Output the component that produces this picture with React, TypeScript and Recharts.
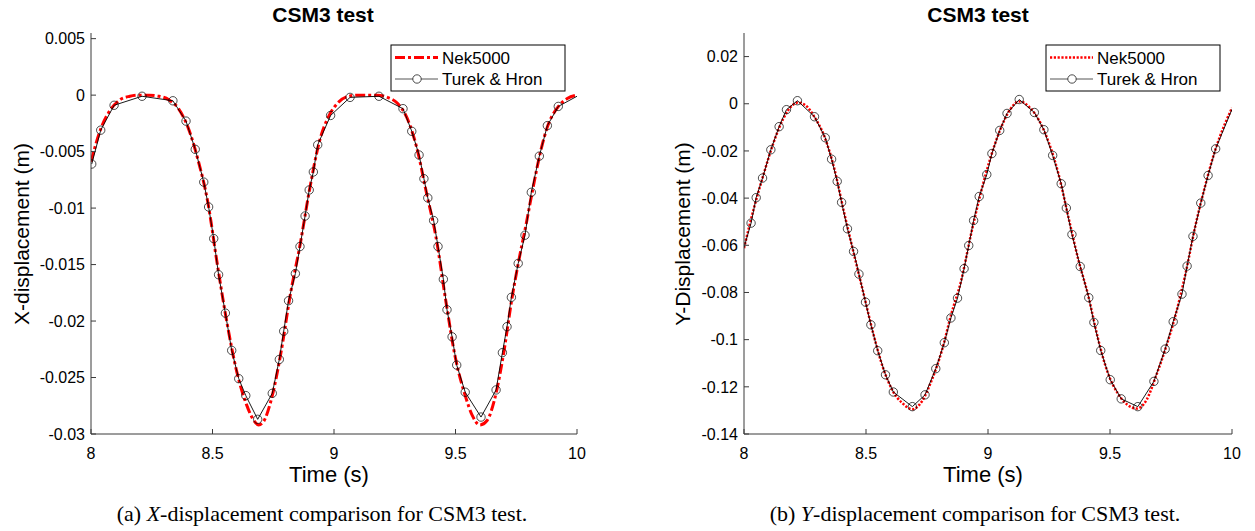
import { Line, LineChart, XAxis, YAxis } from "recharts";

// (a) X-displacement, Turek & Hron reference (markers)
const xTurekT = [8.003, 8.04, 8.095, 8.21, 8.337, 8.391, 8.429, 8.464, 8.484, 8.505, 8.525, 8.553, 8.579, 8.608, 8.637, 8.686, 8.746, 8.775, 8.793, 8.813, 8.841, 8.86, 8.881, 8.898, 8.915, 8.933, 8.986, 9.066, 9.185, 9.284, 9.32, 9.35, 9.37, 9.386, 9.41, 9.428, 9.45, 9.465, 9.486, 9.505, 9.54, 9.605, 9.667, 9.693, 9.712, 9.73, 9.758, 9.786, 9.812, 9.845, 9.878, 9.923];
const xTurekY = [-0.0061, -0.0031, -0.0009, -0.0001, -0.0005, -0.0023, -0.0048, -0.0077, -0.0099, -0.0127, -0.0159, -0.0193, -0.0226, -0.0251, -0.0266, -0.0287, -0.0264, -0.0234, -0.0209, -0.0182, -0.0158, -0.0134, -0.0107, -0.0084, -0.0068, -0.0044, -0.0018, -0.0002, -0.0001, -0.0012, -0.0032, -0.0053, -0.0074, -0.0091, -0.0111, -0.0134, -0.0163, -0.019, -0.0214, -0.0239, -0.0263, -0.0285, -0.0261, -0.0228, -0.0205, -0.0179, -0.0149, -0.0124, -0.0086, -0.0054, -0.0027, -0.001];
const xTurekEnd = { t: 10.0, y: -0.0001 };

// (a) X-displacement, Nek5000
const xNekT = [8.0, 8.04, 8.08, 8.12, 8.16, 8.2, 8.24, 8.28, 8.32, 8.36, 8.4, 8.44, 8.48, 8.52, 8.56, 8.6, 8.64, 8.67, 8.69, 8.71, 8.74, 8.78, 8.82, 8.86, 8.9, 8.94, 8.98, 9.02, 9.06, 9.1, 9.14, 9.18, 9.22, 9.26, 9.3, 9.34, 9.38, 9.42, 9.46, 9.5, 9.54, 9.57, 9.6, 9.63, 9.66, 9.7, 9.73, 9.76, 9.79, 9.82, 9.85, 9.88, 9.92, 9.96, 10.0];
const xNekY = [-0.0059, -0.003, -0.0013, -0.0004, -0.0001, 0, 0, -0.0001, -0.0004, -0.0012, -0.0029, -0.0057, -0.0094, -0.015, -0.0202, -0.0245, -0.0274, -0.0288, -0.0292, -0.0289, -0.0271, -0.023, -0.0177, -0.0133, -0.0083, -0.0041, -0.0018, -0.0006, -0.0001, 0, 0, 0, -0.0002, -0.0007, -0.002, -0.0046, -0.0086, -0.0126, -0.0182, -0.0233, -0.0266, -0.0284, -0.0292, -0.0288, -0.027, -0.0226, -0.0183, -0.0147, -0.0115, -0.0081, -0.005, -0.0027, -0.0011, -0.0003, 0];

// (b) Y-displacement, Turek & Hron reference (markers)
const yTurekStart = { t: 8.0, y: -0.0609 };
const yTurekT = [8.029, 8.05, 8.076, 8.11, 8.144, 8.174, 8.219, 8.289, 8.333, 8.359, 8.382, 8.4, 8.424, 8.449, 8.471, 8.498, 8.52, 8.548, 8.58, 8.612, 8.69, 8.742, 8.786, 8.821, 8.848, 8.875, 8.902, 8.921, 8.941, 8.964, 8.995, 9.016, 9.048, 9.078, 9.128, 9.19, 9.229, 9.265, 9.3, 9.321, 9.344, 9.378, 9.413, 9.434, 9.462, 9.501, 9.546, 9.614, 9.68, 9.726, 9.759, 9.795, 9.816, 9.84, 9.872, 9.902, 9.933];
const yTurekY = [-0.0506, -0.0398, -0.0315, -0.0195, -0.0097, -0.0025, 0.0013, -0.0055, -0.0144, -0.0235, -0.0329, -0.0418, -0.053, -0.0626, -0.0722, -0.0841, -0.0937, -0.1047, -0.1149, -0.1222, -0.1284, -0.1234, -0.1123, -0.1013, -0.0908, -0.0824, -0.0699, -0.0601, -0.0495, -0.0393, -0.03, -0.0211, -0.0113, -0.0041, 0.0018, -0.0037, -0.011, -0.0219, -0.0339, -0.0442, -0.0554, -0.069, -0.0822, -0.0927, -0.1046, -0.117, -0.1251, -0.1284, -0.1177, -0.104, -0.0924, -0.0807, -0.0688, -0.0562, -0.0421, -0.0304, -0.0191];
const yTurekEnd = { t: 10.0, y: -0.0023 };

// (b) Y-displacement, Nek5000
const yNekT = [8.0, 8.04, 8.08, 8.12, 8.16, 8.2, 8.22, 8.25, 8.29, 8.33, 8.37, 8.41, 8.45, 8.49, 8.53, 8.57, 8.61, 8.65, 8.69, 8.73, 8.77, 8.81, 8.85, 8.89, 8.93, 8.97, 9.01, 9.05, 9.09, 9.13, 9.17, 9.21, 9.25, 9.29, 9.33, 9.37, 9.41, 9.45, 9.49, 9.53, 9.57, 9.61, 9.65, 9.69, 9.73, 9.77, 9.81, 9.85, 9.89, 9.93, 9.97, 10.0];
const yNekY = [-0.0612, -0.0445, -0.03, -0.0168, -0.0065, -0.0005, 0.0005, -0.0005, -0.0058, -0.014, -0.0275, -0.046, -0.0635, -0.0805, -0.0975, -0.112, -0.1218, -0.127, -0.1295, -0.126, -0.117, -0.105, -0.089, -0.075, -0.0555, -0.038, -0.023, -0.011, -0.0025, 0.001, -0.0015, -0.0072, -0.0167, -0.0302, -0.0483, -0.066, -0.081, -0.0992, -0.1138, -0.1225, -0.1275, -0.1292, -0.1255, -0.115, -0.103, -0.089, -0.0718, -0.0517, -0.0348, -0.02, -0.0088, -0.0018];

const timeTicks = [8, 8.5, 9, 9.5, 10];
const xDispTicks = [0.005, 0, -0.005, -0.01, -0.015, -0.02, -0.025, -0.03];
const yDispTicks = [0.02, 0, -0.02, -0.04, -0.06, -0.08, -0.1, -0.12, -0.14];

const zip = (ts: number[], ys: number[]) => ts.map((t, i) => ({ t, y: ys[i] }));

const SANS = "'Liberation Sans', Arial, Helvetica, sans-serif";
const SERIF = "'Liberation Serif', 'Times New Roman', serif";
const AXIS = "#3a3a3a";
const tickFont = { fontSize: 16, fill: "#000", fontFamily: SANS };
const noLabel = () => <g />;

type PanelProps = {
  left: number;
  width: number;
  yWidth: number;
  yDomain: [number, number];
  yTicks: number[];
  nek: { t: number; y: number }[];
  turekLine: { t: number; y: number }[];
  turekMarks: { t: number; y: number }[];
  nekDash: string;
  nekWidth: number;
};

function Panel(p: PanelProps) {
  const rightMargin = p.width - (p.left === 0 ? 577 : 1232 - p.left);
  return (
    <div style={{ position: "absolute", left: p.left, top: 0 }}>
      <LineChart width={p.width} height={531} margin={{ top: 33, right: rightMargin, left: 0, bottom: 67 }}>
        {/* ticks point inward, like the MATLAB box axes */}
        <XAxis xAxisId="b" type="number" dataKey="t" domain={[8, 10]} ticks={timeTicks} allowDataOverflow
          height={30} tickSize={-5} tickMargin={19} stroke={AXIS} tick={tickFont} />
        <XAxis xAxisId="top" orientation="top" type="number" dataKey="t" domain={[8, 10]} ticks={timeTicks} allowDataOverflow
          height={0} tickSize={-5} tick={noLabel} stroke={AXIS} />
        <YAxis yAxisId="l" type="number" dataKey="y" domain={p.yDomain} ticks={p.yTicks} allowDataOverflow
          width={p.yWidth} tickSize={-5} tickMargin={11} stroke={AXIS} tick={tickFont} />
        <YAxis yAxisId="r" orientation="right" type="number" dataKey="y" domain={p.yDomain} ticks={p.yTicks} allowDataOverflow
          width={0} tickSize={-5} tick={noLabel} stroke={AXIS} />
        <Line xAxisId="b" yAxisId="l" data={p.nek} dataKey="y" type="monotone" stroke="#ff0000" strokeWidth={p.nekWidth}
          strokeDasharray={p.nekDash} dot={false} isAnimationActive={false} />
        <Line xAxisId="b" yAxisId="l" data={p.turekLine} dataKey="y" type="linear" stroke="#000" strokeWidth={0.9}
          dot={false} isAnimationActive={false} />
        <Line xAxisId="b" yAxisId="l" data={p.turekMarks} dataKey="y" stroke="none"
          dot={{ r: 4.2, fill: "none", stroke: "#000", strokeWidth: 0.7 }} isAnimationActive={false} />
      </LineChart>
    </div>
  );
}

function LegendBox({ x, dash, w }: { x: number; dash: string; w: number }) {
  return (
    <g>
      <rect x={x} y={45} width={174} height={46} fill="#fff" stroke="#000" strokeWidth={1} />
      <line x1={x + 4} x2={x + 47} y1={57.5} y2={57.5} stroke="#ff0000" strokeWidth={w} strokeDasharray={dash} />
      <text x={x + 51} y={63.5} fontSize={17} fontFamily={SANS}>Nek5000</text>
      <line x1={x + 4} x2={x + 47} y1={79} y2={79} stroke="#555" strokeWidth={1} />
      <circle cx={x + 26} cy={79} r={4.2} fill="#fff" stroke="#000" strokeWidth={0.7} />
      <text x={x + 51} y={85} fontSize={17} fontFamily={SANS}>Turek &amp; Hron</text>
    </g>
  );
}

export default function App() {
  const dashDot = "10 3 3 3";
  const dotted = "2.2 1.6";
  return (
    <div style={{ position: "absolute", left: 0, top: 0, width: 1255, height: 531, background: "#fff" }}>
      <Panel left={0} width={620} yWidth={91} yDomain={[-0.03, 0.0055]} yTicks={xDispTicks}
        nek={zip(xNekT, xNekY)} turekLine={[...zip(xTurekT, xTurekY), xTurekEnd]} turekMarks={zip(xTurekT, xTurekY)}
        nekDash={dashDot} nekWidth={3} />
      <Panel left={640} width={615} yWidth={104} yDomain={[-0.14, 0.03]} yTicks={yDispTicks}
        nek={zip(yNekT, yNekY)} turekLine={[yTurekStart, ...zip(yTurekT, yTurekY), yTurekEnd]} turekMarks={zip(yTurekT, yTurekY)}
        nekDash={dotted} nekWidth={2.5} />
      <svg width={1255} height={531} style={{ position: "absolute", left: 0, top: 0, pointerEvents: "none" }}>
        <text x={323} y={22} textAnchor="middle" fontSize={21} fontWeight="bold" fontFamily={SANS}>CSM3 test</text>
        <text x={978} y={22} textAnchor="middle" fontSize={21} fontWeight="bold" fontFamily={SANS}>CSM3 test</text>
        <LegendBox x={391} dash={dashDot} w={3} />
        <LegendBox x={1046} dash={dotted} w={2.5} />
        <text x={329} y={482} textAnchor="middle" fontSize={22} fontFamily={SANS}>Time (s)</text>
        <text x={983} y={482} textAnchor="middle" fontSize={22} fontFamily={SANS}>Time (s)</text>
        <text transform="translate(29,234) rotate(-90)" textAnchor="middle" fontSize={21} fontFamily={SANS}>X-displacement (m)</text>
        <text transform="translate(690,234) rotate(-90)" textAnchor="middle" fontSize={21} fontFamily={SANS}>Y-Displacement (m)</text>
        <text x={322} y={521} textAnchor="middle" fontSize={22} fontFamily={SERIF}>
          (a)  <tspan fontStyle="italic">X</tspan>-displacement comparison for CSM3 test.
        </text>
        <text x={975} y={521} textAnchor="middle" fontSize={22} fontFamily={SERIF}>
          (b)  <tspan fontStyle="italic">Y</tspan>-displacement comparison for CSM3 test.
        </text>
      </svg>
    </div>
  );
}
